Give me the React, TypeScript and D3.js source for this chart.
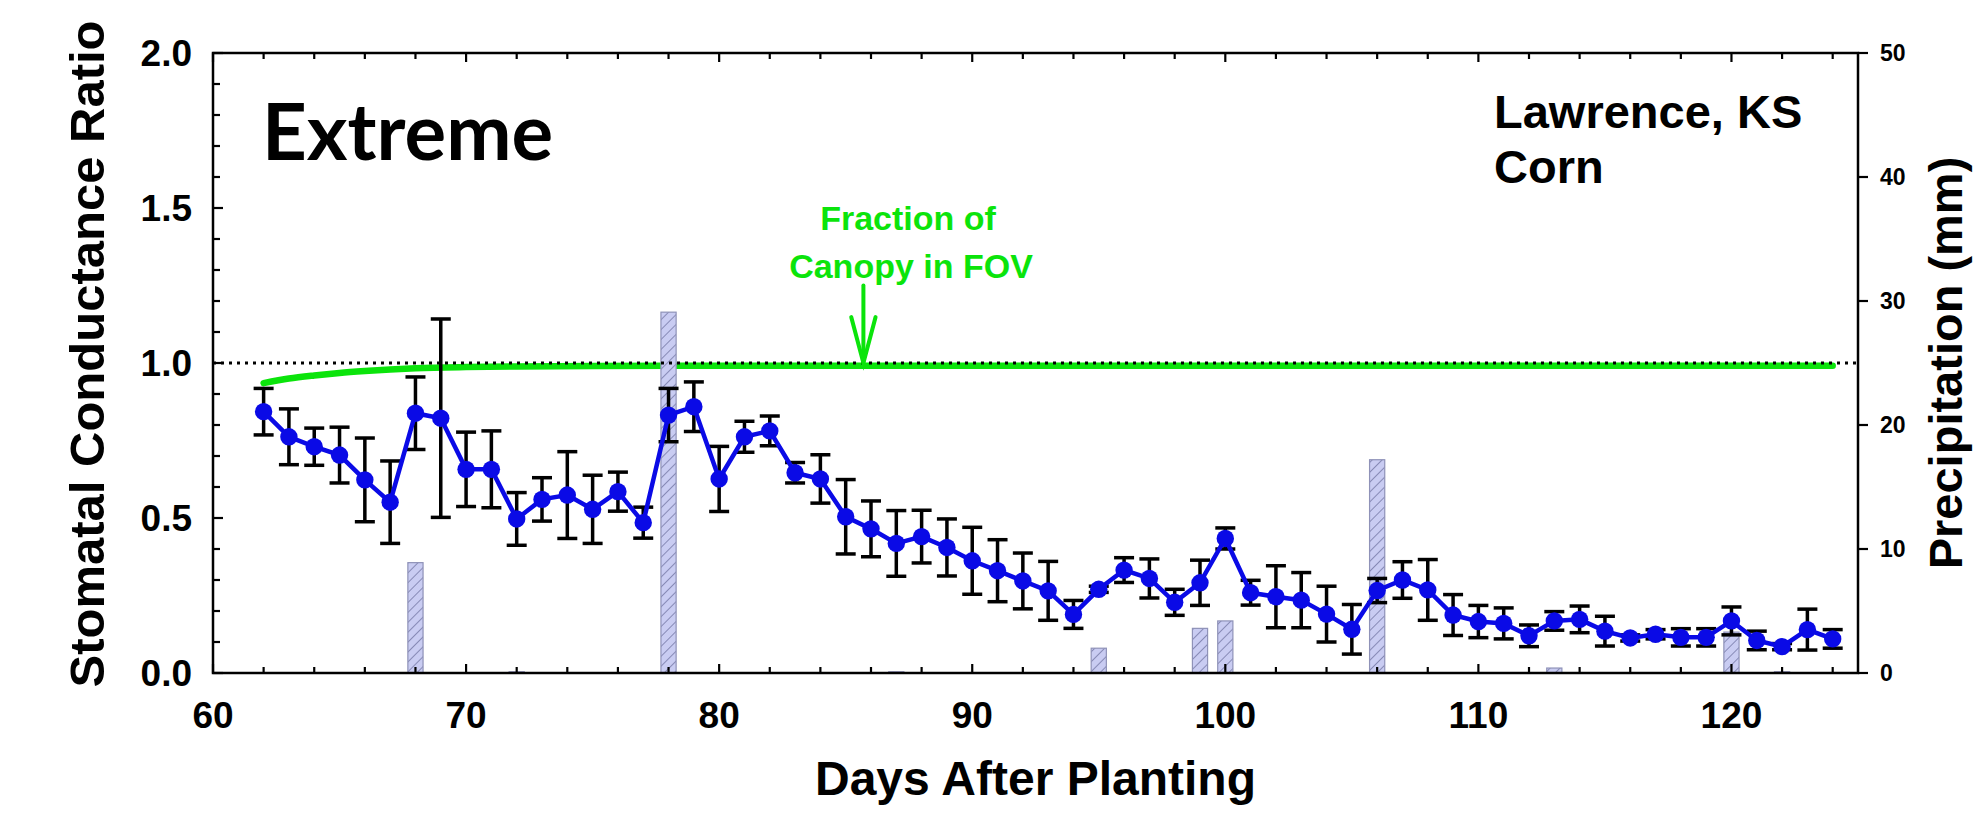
import * as d3 from "d3";
import React, { useRef, useEffect } from "react";

// days after planting, one measurement a day
const days = [62, 63, 64, 65, 66, 67, 68, 69, 70, 71, 72, 73, 74, 75, 76, 77, 78, 79, 80, 81, 82, 83, 84, 85, 86, 87, 88, 89, 90, 91, 92, 93, 94, 95, 96, 97, 98, 99, 100, 101, 102, 103, 104, 105, 106, 107, 108, 109, 110, 111, 112, 113, 114, 115, 116, 117, 118, 119, 120, 121, 122, 123, 124];
const ratio = [0.843, 0.762, 0.73, 0.703, 0.623, 0.551, 0.838, 0.822, 0.657, 0.657, 0.497, 0.56, 0.574, 0.528, 0.585, 0.485, 0.832, 0.859, 0.626, 0.762, 0.781, 0.646, 0.626, 0.504, 0.465, 0.418, 0.44, 0.405, 0.362, 0.33, 0.297, 0.265, 0.189, 0.27, 0.332, 0.305, 0.228, 0.291, 0.434, 0.259, 0.246, 0.235, 0.19, 0.141, 0.266, 0.3, 0.268, 0.187, 0.166, 0.16, 0.12, 0.168, 0.173, 0.135, 0.113, 0.125, 0.115, 0.115, 0.168, 0.105, 0.085, 0.14, 0.11];
const ratioErr = [0.075, 0.09, 0.06, 0.09, 0.135, 0.133, 0.117, 0.32, 0.12, 0.124, 0.085, 0.07, 0.14, 0.11, 0.063, 0.05, 0.086, 0.08, 0.105, 0.05, 0.048, 0.033, 0.078, 0.12, 0.09, 0.106, 0.085, 0.092, 0.108, 0.1, 0.09, 0.095, 0.045, 0.01, 0.04, 0.063, 0.042, 0.073, 0.034, 0.04, 0.1, 0.089, 0.09, 0.08, 0.039, 0.059, 0.098, 0.066, 0.052, 0.05, 0.035, 0.03, 0.043, 0.048, 0.01, 0.015, 0.028, 0.028, 0.045, 0.03, 0.01, 0.066, 0.03];

// fraction of canopy in field of view
const canopyDays = [62, 63, 64, 65, 66, 67, 68, 70, 72, 75, 80, 90, 100, 110, 124];
const canopyFrac = [0.935, 0.95, 0.96, 0.968, 0.974, 0.979, 0.983, 0.987, 0.989, 0.99, 0.991, 0.991, 0.991, 0.991, 0.991];

// precipitation (mm)
const rainDays = [68, 72, 78, 87, 95, 99, 100, 106, 113, 120, 122];
const rainMm = [8.9, 0.1, 29.1, 0.1, 2.0, 3.6, 4.2, 17.2, 0.4, 3.3, 0.1];

const xTicks = [60, 70, 80, 90, 100, 110, 120];
const xMinorTicks = [62, 64, 66, 68, 72, 74, 76, 78, 82, 84, 86, 88, 92, 94, 96, 98, 102, 104, 106, 108, 112, 114, 116, 118, 122, 124];
const yTicks = [0, 0.5, 1.0, 1.5, 2.0];
const yMinorTicks = [0.1, 0.2, 0.3, 0.4, 0.6, 0.7, 0.8, 0.9, 1.1, 1.2, 1.3, 1.4, 1.6, 1.7, 1.8, 1.9];
const rainTicks = [0, 10, 20, 30, 40, 50];

const arrowDay = 85.7;

function App() {
  const ref = useRef(null);

  useEffect(() => {
    document.body.style.margin = "0";
    const svg = d3.select(ref.current);
    svg.selectAll("*").remove();
    draw(svg);
  }, []);

  const draw = (svg) => {
    const W = 1975, H = 823;
    const left = 213, right = 1858, top = 53, bottom = 673;
    const font = "'Liberation Sans', Arial, sans-serif";

    svg.attr("width", W).attr("height", H).style("display", "block");

    const x = d3.scaleLinear().domain([60, 125]).range([left, right]);
    const y = d3.scaleLinear().domain([0, 2]).range([bottom, top]);
    const yRain = d3.scaleLinear().domain([0, 50]).range([bottom, top]);

    // hatch pattern for precipitation bars
    const pat = svg.append("defs").append("pattern")
      .attr("id", "hatch")
      .attr("patternUnits", "userSpaceOnUse")
      .attr("width", 7).attr("height", 7)
      .attr("patternTransform", "rotate(45)");
    pat.append("rect").attr("width", 7).attr("height", 7).attr("fill", "#c9ccf2");
    pat.append("line").attr("x1", 0).attr("y1", 0).attr("x2", 0).attr("y2", 7)
      .attr("stroke", "#6b6e9c").attr("stroke-width", 1.4);

    // canopy fraction curve
    const canopy = canopyDays.map((d, i) => [d, canopyFrac[i]]);
    svg.append("path")
      .datum(canopy)
      .attr("fill", "none")
      .attr("stroke", "#0be40b")
      .attr("stroke-width", 6.5)
      .attr("stroke-linecap", "round")
      .attr("d", d3.line().curve(d3.curveMonotoneX).x(d => x(d[0])).y(d => y(d[1])));

    // precipitation bars
    svg.selectAll(".rain")
      .data(rainDays.map((d, i) => ({ day: d, mm: rainMm[i] })))
      .enter()
      .append("rect")
      .attr("x", d => x(d.day - 0.3))
      .attr("width", d => x(d.day + 0.3) - x(d.day - 0.3))
      .attr("y", d => yRain(d.mm))
      .attr("height", d => yRain(0) - yRain(d.mm))
      .attr("fill", "url(#hatch)")
      .attr("stroke", "#8f92b8")
      .attr("stroke-width", 1.2);

    // reference line at 1.0
    svg.append("line")
      .attr("x1", left).attr("x2", right)
      .attr("y1", y(1)).attr("y2", y(1))
      .attr("stroke", "#000")
      .attr("stroke-width", 3)
      .attr("stroke-dasharray", "3,5");

    // frame
    svg.append("rect")
      .attr("x", left).attr("y", top)
      .attr("width", right - left).attr("height", bottom - top)
      .attr("fill", "none").attr("stroke", "#000").attr("stroke-width", 2.5);

    // ticks
    const tickG = svg.append("g").attr("stroke", "#000").attr("stroke-width", 2.2);
    xMinorTicks.forEach(t => {
      tickG.append("line").attr("x1", x(t)).attr("x2", x(t)).attr("y1", bottom).attr("y2", bottom - 6);
      tickG.append("line").attr("x1", x(t)).attr("x2", x(t)).attr("y1", top).attr("y2", top + 6);
    });
    xTicks.forEach(t => {
      tickG.append("line").attr("x1", x(t)).attr("x2", x(t)).attr("y1", bottom).attr("y2", bottom - 9);
      tickG.append("line").attr("x1", x(t)).attr("x2", x(t)).attr("y1", top).attr("y2", top + 9);
    });
    yMinorTicks.forEach(t => {
      tickG.append("line").attr("x1", left).attr("x2", left + 7).attr("y1", y(t)).attr("y2", y(t));
    });
    yTicks.forEach(t => {
      tickG.append("line").attr("x1", left).attr("x2", left + 10).attr("y1", y(t)).attr("y2", y(t));
    });
    rainTicks.forEach(t => {
      tickG.append("line").attr("x1", right).attr("x2", right + 10).attr("y1", yRain(t)).attr("y2", yRain(t));
    });

    // tick labels
    svg.append("g").selectAll("text").data(yTicks).enter().append("text")
      .attr("x", left - 21).attr("y", d => y(d)).attr("dy", "0.36em")
      .attr("text-anchor", "end")
      .attr("font-family", font).attr("font-weight", "bold").attr("font-size", 37)
      .text(d => d3.format(".1f")(d));
    svg.append("g").selectAll("text").data(xTicks).enter().append("text")
      .attr("x", d => x(d)).attr("y", 728)
      .attr("text-anchor", "middle")
      .attr("font-family", font).attr("font-weight", "bold").attr("font-size", 37)
      .text(d => d);
    svg.append("g").selectAll("text").data(rainTicks).enter().append("text")
      .attr("x", right + 22).attr("y", d => yRain(d)).attr("dy", "0.36em")
      .attr("font-family", font).attr("font-weight", "bold").attr("font-size", 23)
      .text(d => d);

    // error bars
    const pts = days.map((d, i) => ({ day: d, v: ratio[i], e: ratioErr[i] }));
    const eb = svg.append("g").attr("stroke", "#000").attr("stroke-width", 3.5);
    pts.forEach(p => {
      const cx = x(p.day);
      eb.append("line").attr("x1", cx).attr("x2", cx).attr("y1", y(p.v - p.e)).attr("y2", y(p.v + p.e));
      eb.append("line").attr("x1", cx - 10).attr("x2", cx + 10).attr("y1", y(p.v - p.e)).attr("y2", y(p.v - p.e));
      eb.append("line").attr("x1", cx - 10).attr("x2", cx + 10).attr("y1", y(p.v + p.e)).attr("y2", y(p.v + p.e));
    });

    // conductance ratio line + markers
    svg.append("path")
      .datum(pts)
      .attr("fill", "none")
      .attr("stroke", "#0a0ae6")
      .attr("stroke-width", 4.5)
      .attr("d", d3.line().x(d => x(d.day)).y(d => y(d.v)));
    svg.append("g").selectAll("circle").data(pts).enter().append("circle")
      .attr("cx", d => x(d.day)).attr("cy", d => y(d.v)).attr("r", 8.7)
      .attr("fill", "#0a0ae6");

    // annotation arrow
    const ax = x(arrowDay);
    const arr = svg.append("g").attr("stroke", "#0be40b").attr("stroke-width", 4).attr("fill", "none")
      .attr("stroke-linecap", "round");
    arr.append("line").attr("x1", ax).attr("x2", ax).attr("y1", y(1.25)).attr("y2", y(1.0));
    arr.append("path").attr("d", `M${x(arrowDay - 0.48)},${y(1.148)} L${ax},${y(1.0)} L${x(arrowDay + 0.48)},${y(1.148)}`);

    const green = svg.append("g")
      .attr("fill", "#0be40b").attr("font-family", font).attr("font-weight", "bold").attr("font-size", 34)
      .attr("text-anchor", "middle");
    green.append("text").attr("x", 908).attr("y", 230).text("Fraction of");
    green.append("text").attr("x", 911).attr("y", 278).text("Canopy in FOV");

    // panel labels
    svg.append("text").attr("x", 262).attr("y", 160)
      .attr("font-family", "Lato, 'Open Sans', sans-serif").attr("font-weight", 700).attr("font-size", 78)
      .text("Extreme");
    const site = svg.append("g").attr("font-family", font).attr("font-weight", "bold").attr("font-size", 47);
    site.append("text").attr("x", 1494).attr("y", 128).text("Lawrence, KS");
    site.append("text").attr("x", 1494).attr("y", 183).text("Corn");

    // axis titles
    svg.append("text")
      .attr("transform", `translate(104,354) rotate(-90)`)
      .attr("text-anchor", "middle")
      .attr("font-family", font).attr("font-weight", "bold").attr("font-size", 49)
      .text("Stomatal Conductance Ratio");
    svg.append("text")
      .attr("transform", `translate(1962,${(top + bottom) / 2}) rotate(-90)`)
      .attr("text-anchor", "middle")
      .attr("font-family", font).attr("font-weight", "bold").attr("font-size", 47)
      .text("Precipitation (mm)");
    svg.append("text")
      .attr("x", (left + right) / 2).attr("y", 795)
      .attr("text-anchor", "middle")
      .attr("font-family", font).attr("font-weight", "bold").attr("font-size", 48)
      .text("Days After Planting");
  };

  return (
    <div className="Chart" style={{ width: 1975, height: 823, overflow: "hidden", background: "#fff" }}>
      <svg ref={ref}></svg>
    </div>
  );
}

export default App;
